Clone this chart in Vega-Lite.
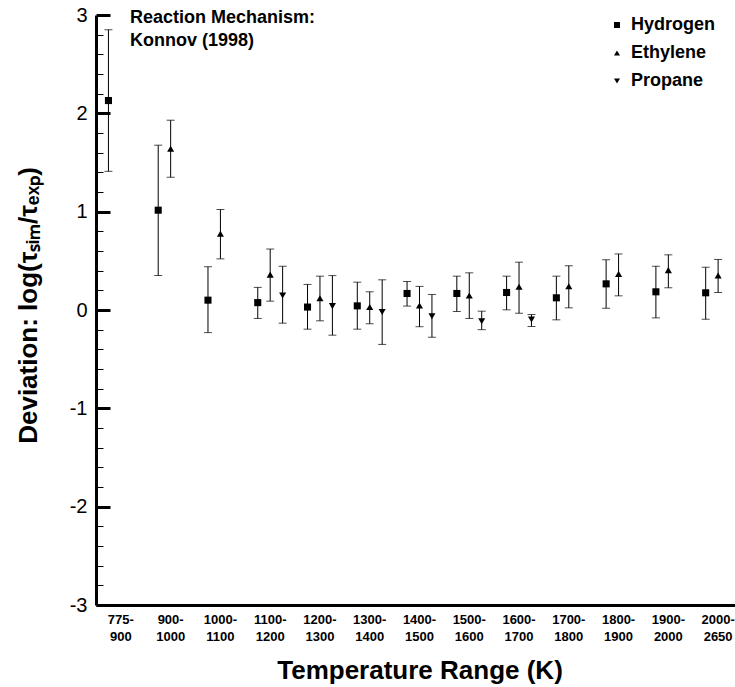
{
  "$schema": "https://vega.github.io/schema/vega-lite/v6.json",
  "width": 639,
  "height": 590,
  "autosize": {"type": "none"},
  "padding": {"left": 96, "top": 15, "right": 0, "bottom": 82},
  "background": "white",
  "config": {
    "view": {"stroke": null},
    "font": "Liberation Sans",
    "title": {"font": "Liberation Sans"}
  },
  "title": {
    "text": ["Reaction Mechanism:", "Konnov (1998)"],
    "anchor": "start",
    "frame": "group",
    "orient": "top",
    "fontSize": 18,
    "fontWeight": "bold",
    "color": "black",
    "lineHeight": 23,
    "dx": 34,
    "offset": -59,
    "baseline": "alphabetic"
  },
  "data": {
    "values": [
      {"range": "775-900", "series": "Hydrogen", "value": 2.13, "lo": 1.41, "hi": 2.85},
      {"range": "900-1000", "series": "Hydrogen", "value": 1.015, "lo": 0.351, "hi": 1.676},
      {"range": "900-1000", "series": "Ethylene", "value": 1.64, "lo": 1.35, "hi": 1.93},
      {"range": "1000-1100", "series": "Hydrogen", "value": 0.1, "lo": -0.23, "hi": 0.44},
      {"range": "1000-1100", "series": "Ethylene", "value": 0.775, "lo": 0.52, "hi": 1.022},
      {"range": "1100-1200", "series": "Hydrogen", "value": 0.075, "lo": -0.086, "hi": 0.23},
      {"range": "1100-1200", "series": "Ethylene", "value": 0.36, "lo": 0.09, "hi": 0.62},
      {"range": "1100-1200", "series": "Propane", "value": 0.147, "lo": -0.134, "hi": 0.445},
      {"range": "1200-1300", "series": "Hydrogen", "value": 0.03, "lo": -0.195, "hi": 0.26},
      {"range": "1200-1300", "series": "Ethylene", "value": 0.12, "lo": -0.11, "hi": 0.344},
      {"range": "1200-1300", "series": "Propane", "value": 0.04, "lo": -0.256, "hi": 0.35},
      {"range": "1300-1400", "series": "Hydrogen", "value": 0.042, "lo": -0.195, "hi": 0.283},
      {"range": "1300-1400", "series": "Ethylene", "value": 0.03, "lo": -0.14, "hi": 0.185},
      {"range": "1300-1400", "series": "Propane", "value": -0.02, "lo": -0.35, "hi": 0.307},
      {"range": "1400-1500", "series": "Hydrogen", "value": 0.168, "lo": 0.04, "hi": 0.29},
      {"range": "1400-1500", "series": "Ethylene", "value": 0.046, "lo": -0.17, "hi": 0.24},
      {"range": "1400-1500", "series": "Propane", "value": -0.063, "lo": -0.277, "hi": 0.158},
      {"range": "1500-1600", "series": "Hydrogen", "value": 0.168, "lo": -0.015, "hi": 0.344},
      {"range": "1500-1600", "series": "Ethylene", "value": 0.147, "lo": -0.086, "hi": 0.378},
      {"range": "1500-1600", "series": "Propane", "value": -0.114, "lo": -0.2, "hi": -0.012},
      {"range": "1600-1700", "series": "Hydrogen", "value": 0.178, "lo": 0.002, "hi": 0.344},
      {"range": "1600-1700", "series": "Ethylene", "value": 0.236, "lo": -0.033, "hi": 0.486},
      {"range": "1600-1700", "series": "Propane", "value": -0.097, "lo": -0.168, "hi": -0.046},
      {"range": "1700-1800", "series": "Hydrogen", "value": 0.124, "lo": -0.1, "hi": 0.344},
      {"range": "1700-1800", "series": "Ethylene", "value": 0.242, "lo": 0.022, "hi": 0.45},
      {"range": "1800-1900", "series": "Hydrogen", "value": 0.266, "lo": 0.018, "hi": 0.51},
      {"range": "1800-1900", "series": "Ethylene", "value": 0.368, "lo": 0.144, "hi": 0.57},
      {"range": "1900-2000", "series": "Hydrogen", "value": 0.185, "lo": -0.08, "hi": 0.445},
      {"range": "1900-2000", "series": "Ethylene", "value": 0.405, "lo": 0.226, "hi": 0.561},
      {"range": "2000-2650", "series": "Hydrogen", "value": 0.175, "lo": -0.094, "hi": 0.435},
      {"range": "2000-2650", "series": "Ethylene", "value": 0.351, "lo": 0.178, "hi": 0.514}
    ]
  },
  "encoding": {
    "x": {
      "field": "range",
      "type": "nominal",
      "sort": ["775-900", "900-1000", "1000-1100", "1100-1200", "1200-1300", "1300-1400", "1400-1500", "1500-1600", "1600-1700", "1700-1800", "1800-1900", "1900-2000", "2000-2650"],
      "scale": {"type": "band", "paddingInner": 0, "paddingOuter": 0, "range": [0, 647]},
      "axis": {
        "title": "Temperature Range (K)",
        "titleFontSize": 26,
        "titleFontWeight": "bold",
        "titleColor": "black",
        "titlePadding": 14,
        "labelExpr": "[split(datum.label, '-')[0] + '-', split(datum.label, '-')[1]]",
        "labelAngle": 0,
        "labelFontSize": 13,
        "labelFontWeight": "bold",
        "labelColor": "black",
        "labelLineHeight": 17,
        "labelPadding": 8,
        "labelBaseline": "top",
        "ticks": false,
        "domainColor": "black",
        "domainWidth": 3
      }
    },
    "xOffset": {
      "field": "series",
      "type": "nominal",
      "sort": ["Hydrogen", "Ethylene", "Propane"],
      "scale": {"type": "point", "padding": 1.49}
    }
  },
  "resolve": {"axis": {"y": "independent"}},
  "layer": [
    {
      "mark": {"type": "rule", "color": "black", "strokeWidth": 1},
      "encoding": {
        "y": {
          "field": "lo",
          "type": "quantitative",
          "scale": {"domain": [-3, 3], "nice": false, "zero": false},
          "axis": {
            "orient": "left",
            "title": "Deviation: log(τₛᵢₘ/τₑₓₚ)",
            "titleFontSize": 26,
            "titleFontWeight": "bold",
            "titleColor": "black",
            "titleAngle": -90,
            "titleX": -68,
            "titleY": 290,
            "titleAlign": "center",
            "titleBaseline": "middle",
            "values": [-3, -2, -1, 0, 1, 2, 3],
            "tickCount": 100,
            "format": "d",
            "labelExpr": "'' + round(datum.value)",
            "labelOverlap": false,
            "labelFontSize": 20,
            "labelColor": "black",
            "labelPadding": 23,
            "grid": false,
            "domainColor": "black",
            "domainWidth": 3,
            "tickColor": "black",
            "tickSize": -14,
            "tickWidth": 3
          }
        },
        "y2": {"field": "hi"}
      }
    },
    {
      "mark": {"type": "tick", "orient": "horizontal", "size": 8, "thickness": 1, "color": "black"},
      "encoding": {
        "y": {
          "field": "lo",
          "type": "quantitative",
          "axis": {
            "orient": "left",
            "title": null,
            "values": [-2.8, -2.6, -2.4, -2.2, -1.8, -1.6, -1.4, -1.2, -0.8, -0.6, -0.4, -0.2, 0.2, 0.4, 0.6, 0.8, 1.2, 1.4, 1.6, 1.8, 2.2, 2.4, 2.6, 2.8],
            "tickCount": 100,
            "labels": false,
            "domain": false,
            "grid": false,
            "tickColor": "black",
            "tickSize": -7,
            "tickWidth": 1
          }
        }
      }
    },
    {
      "mark": {"type": "tick", "orient": "horizontal", "size": 8, "thickness": 1, "color": "black"},
      "encoding": {"y": {"field": "hi", "type": "quantitative", "axis": null}}
    },
    {
      "mark": {"type": "point", "filled": true, "color": "black", "opacity": 1, "size": 50},
      "encoding": {
        "y": {"field": "value", "type": "quantitative", "axis": null},
        "shape": {
          "field": "series",
          "type": "nominal",
          "sort": ["Hydrogen", "Ethylene", "Propane"],
          "scale": {"domain": ["Hydrogen", "Ethylene", "Propane"], "range": ["square", "triangle-up", "triangle-down"]},
          "legend": {
            "title": null,
            "orient": "none",
            "legendX": 512,
            "legendY": 1,
            "padding": 0,
            "labelFontSize": 18,
            "labelFontWeight": "bold",
            "labelColor": "black",
            "labelOffset": 5,
            "rowPadding": 10,
            "symbolSize": 36,
            "symbolFillColor": "black",
            "symbolStrokeColor": "black",
            "symbolType": "square"
          }
        }
      }
    }
  ]
}
